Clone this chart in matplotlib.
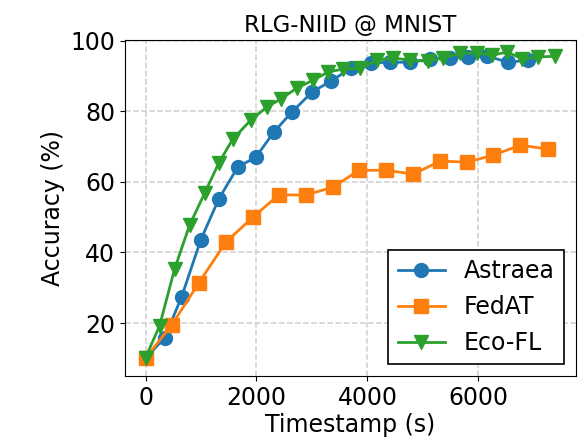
import numpy as np
import matplotlib
matplotlib.use("Agg")
import matplotlib.pyplot as plt

# Astraea (blue circles)
astraea_t = [0, 343, 650, 994, 1319, 1662, 1988, 2313, 2638, 3000, 3343,
             3704, 4066, 4409, 4770, 5132, 5493, 5819, 6162, 6541, 6903]
astraea_acc = [10.0, 15.8, 27.4, 43.5, 55.1, 64.2, 67.0, 74.1, 79.8, 85.4, 88.6,
               92.2, 93.7, 93.9, 93.9, 94.8, 95.1, 95.4, 95.6, 93.9, 94.5]

# FedAT (orange squares)
fedat_t = [0, 470, 958, 1446, 1934, 2403, 2891, 3379, 3849, 4337, 4825,
           5313, 5801, 6270, 6758, 7246]
fedat_acc = [10.1, 19.4, 31.3, 42.9, 50.0, 56.3, 56.3, 58.5, 63.3, 63.3, 62.2,
             65.9, 65.6, 67.6, 70.4, 69.3]

# Eco-FL (green triangles)
ecofl_t = [0, 253, 524, 795, 1066, 1319, 1572, 1897, 2186, 2440, 2729, 3018,
           3289, 3560, 3867, 4174, 4463, 4770, 5096, 5367, 5674, 5981, 6252,
           6523, 6794, 7083, 7390]
ecofl_acc = [10.2, 19.2, 35.3, 47.8, 56.8, 65.3, 72.1, 77.5, 81.2, 83.5, 86.6, 88.8,
             91.1, 92.0, 92.2, 94.5, 95.1, 94.5, 94.2, 95.1, 96.5, 96.5, 95.9,
             96.8, 94.8, 95.4, 95.6]

fs = 17

fig = plt.figure(figsize=(5.85, 4.47), dpi=100)
ax = fig.add_axes([0.2137, 0.1588, 0.7709, 0.7517])

ax.plot(astraea_t, astraea_acc, marker="o", color="#1f77b4", lw=2,
        markersize=10, label="Astraea")
ax.plot(fedat_t, fedat_acc, marker="s", color="#ff7f0e", lw=2,
        markersize=10, label="FedAT")
ax.plot(ecofl_t, ecofl_acc, marker="v", color="#2ca02c", lw=2,
        markersize=10.5, label="Eco-FL")

ax.set_ylim(5, 100.2)
ax.set_xticks([0, 2000, 4000, 6000])
ax.set_yticks([20, 40, 60, 80, 100])
ax.tick_params(labelsize=fs)
ax.grid(True, linestyle="--", color="#d0d0d0", lw=1.1)
ax.set_xlabel("Timestamp (s)", fontsize=fs, labelpad=2)
ax.set_ylabel("Accuracy (%)", fontsize=fs)
ax.set_title("RLG-NIID @ MNIST", fontsize=fs - 0.5)

leg = ax.legend(loc="lower right", fontsize=fs, fancybox=False,
                edgecolor="black", framealpha=1)
leg.get_frame().set_linewidth(1.2)

plt.savefig("out.png", dpi=100)
plt.close()
